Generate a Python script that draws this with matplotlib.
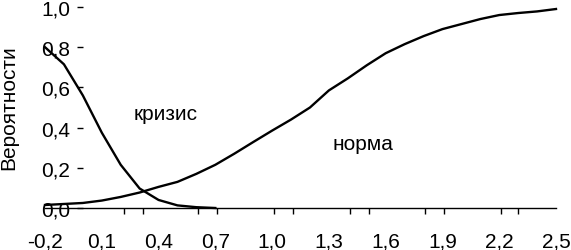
import matplotlib
matplotlib.use("Agg")
import matplotlib.pyplot as plt
from matplotlib.ticker import FixedLocator, FixedFormatter

plt.rcParams['font.family'] = ['Liberation Sans', 'DejaVu Sans']

x_crisis = [-0.2, -0.1, 0.0, 0.1, 0.2, 0.3, 0.4, 0.5, 0.6, 0.7]
y_crisis = [0.80, 0.715, 0.56, 0.375, 0.215, 0.097, 0.04, 0.013, 0.004, 0.0]

x_norm = [-0.2, -0.1, 0.0, 0.1, 0.2, 0.3, 0.4, 0.5, 0.6, 0.7, 0.8, 0.9, 1.0, 1.1,
          1.2, 1.3, 1.4, 1.5, 1.6, 1.7, 1.8, 1.9, 2.0, 2.1, 2.2, 2.3, 2.4, 2.5]
y_norm = [0.015, 0.02, 0.025, 0.037, 0.055, 0.077, 0.105, 0.13, 0.17, 0.215, 0.27,
          0.328, 0.385, 0.44, 0.50, 0.585, 0.645, 0.71, 0.77, 0.815, 0.855, 0.89,
          0.915, 0.94, 0.96, 0.97, 0.978, 0.99]

x_ticks = [-0.2, 0.1, 0.4, 0.7, 1.0, 1.3, 1.6, 1.9, 2.2, 2.5]
x_labels = ['-0,2', '0,1', '0,4', '0,7', '1,0', '1,3', '1,6', '1,9', '2,2', '2,5']
x_marks = [0.22, 0.32, 0.61, 0.71, 1.01, 1.11, 1.41, 1.51, 1.81, 1.91, 2.21, 2.30]
y_ticks = [0.0, 0.2, 0.4, 0.6, 0.8, 1.0]
y_labels = ['0,0', '0,2', '0,4', '0,6', '0,8', '1,0']

fig = plt.figure(figsize=(5.71, 2.51), dpi=100)
ax = fig.add_axes([45 / 571, 1 - 209 / 251, 511 / 571, 201 / 251])
ax.set_xlim(-0.2, 2.5)
ax.set_ylim(0, 1.0)

ax.plot(x_crisis, y_crisis, color='black', lw=1.7, solid_joinstyle='round', clip_on=False)
ax.plot(x_norm, y_norm, color='black', lw=1.7, solid_joinstyle='round', clip_on=False)

for s in ['top', 'right']:
    ax.spines[s].set_visible(False)
ax.spines['left'].set_position(('data', 0.0))
ax.spines['left'].set_visible(False)
ax.spines['bottom'].set_color('black')
ax.spines['bottom'].set_linewidth(1.0)

ax.xaxis.set_major_locator(FixedLocator(x_ticks))
ax.xaxis.set_major_formatter(FixedFormatter(x_labels))
ax.xaxis.set_minor_locator(FixedLocator(x_marks))
ax.tick_params(axis='x', which='major', length=0, pad=17, labelsize=15, colors='black')
ax.tick_params(axis='x', which='minor', length=4, width=1, direction='out', color='black')

ax.yaxis.set_major_locator(FixedLocator(y_ticks))
ax.yaxis.set_major_formatter(FixedFormatter(y_labels))
ax.tick_params(axis='y', which='major', length=4, width=1, direction='out', pad=5,
               labelsize=15, colors='black')

ax.text(0.27, 0.468, 'кризис', fontsize=15, ha='left', va='center')
ax.text(1.32, 0.32, 'норма', fontsize=15, ha='left', va='center')

fig.text(9 / 571, 1 - 108 / 251, 'Вероятности', rotation=90, fontsize=15,
         ha='center', va='center')

fig.savefig('out.png', dpi=100)
